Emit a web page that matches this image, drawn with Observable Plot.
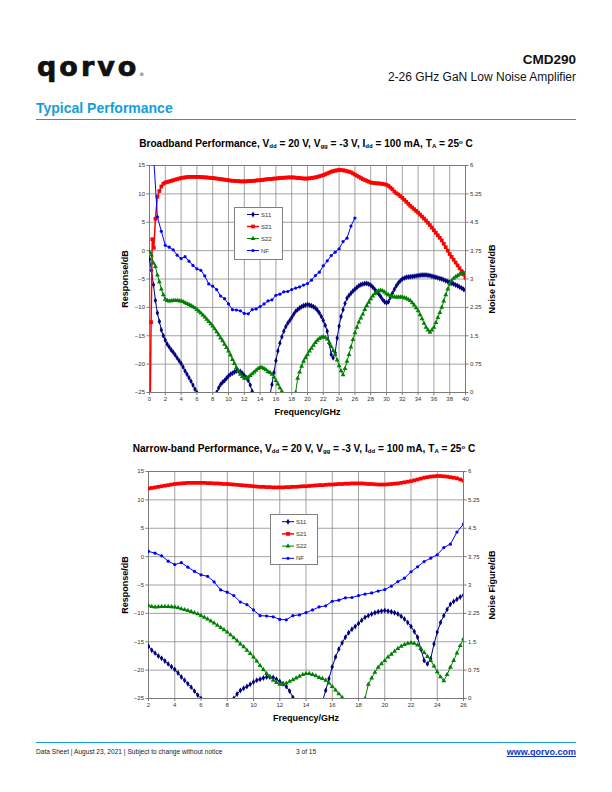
<!DOCTYPE html>
<html><head><meta charset="utf-8">
<script src="https://cdn.jsdelivr.net/npm/d3@7"></script>
<script src="https://cdn.jsdelivr.net/npm/@observablehq/plot@0.6"></script>
<style>
body{margin:0;background:#fff;width:612px;height:792px;position:relative;font-family:"Liberation Sans",Arial,sans-serif;overflow:hidden}
.abs{position:absolute;line-height:1;white-space:nowrap}
.t{font-weight:bold;font-size:10.1px;color:#000;left:0;width:612px;text-align:center}
.t sub{font-size:0.6em;vertical-align:-0.1em}
.t sup{font-size:0.6em;vertical-align:0.5em}
.legend{position:absolute;border:1px solid #7f7f7f;background:#fff;box-sizing:border-box}
.legend svg{display:block}
</style></head><body>
<div class="abs" style="left:37px;top:53px;font-family:'DejaVu Sans';font-weight:bold;font-size:27px;letter-spacing:3px;color:#111;-webkit-text-stroke:0.7px #111">qorvo<span style="font-size:5px;letter-spacing:0;color:#666;-webkit-text-stroke:0">®</span></div>
<div class="abs" style="right:36px;top:52.6px;font-weight:bold;font-size:13.5px;color:#111">CMD290</div>
<div class="abs" style="right:36px;top:71.3px;font-size:12px;color:#111">2-26 GHz GaN Low Noise Amplifier</div>
<div class="abs" style="left:36px;top:101px;font-weight:bold;font-size:14px;color:#139ed9">Typical Performance</div>
<div class="abs" style="left:36px;top:119px;width:540px;height:1.3px;background:#139ed9"></div>

<div class="abs t" style="top:139px">Broadband Performance, V<sub>dd</sub> = 20 V, V<sub>gg</sub> = -3 V, I<sub>dd</sub> = 100 mA, T<sub>A</sub> = 25<sup>o</sup> C</div>
<div id="c1" class="abs" style="left:0;top:155px"></div>
<div id="l1" class="legend" style="left:234px;top:207px;width:49px;height:53px"></div>

<div class="abs t" style="top:444px;left:-2px">Narrow-band Performance, V<sub>dd</sub> = 20 V, V<sub>gg</sub> = -3 V, I<sub>dd</sub> = 100 mA, T<sub>A</sub> = 25<sup>o</sup> C</div>
<div id="c2" class="abs" style="left:0;top:461px"></div>
<div id="l2" class="legend" style="left:270px;top:514px;width:48px;height:51px"></div>

<div class="abs" style="left:36px;top:742px;width:540px;height:1.3px;background:#139ed9"></div>
<div class="abs" style="left:36px;top:749.4px;font-size:6.6px;color:#222">Data Sheet | August 23, 2021 | Subject to change without notice</div>
<div class="abs" style="left:296px;top:749.4px;font-size:6.6px;color:#222">3 of 15</div>
<div class="abs" style="right:36px;top:748.4px;font-size:9px;font-weight:bold;color:#0b35c9;text-decoration:underline">www.qorvo.com</div>

<script>
// ---- Data ----
const yTicks = [-25, -20, -15, -10, -5, 0, 5, 10, 15];
const nfTicks = [0, 0.75, 1.5, 2.25, 3, 3.75, 4.5, 5.25, 6];
const xTicksBroad = [0, 2, 4, 6, 8, 10, 12, 14, 16, 18, 20, 22, 24, 26, 28, 30, 32, 34, 36, 38, 40];
const xTicksNarrow = [2, 4, 6, 8, 10, 12, 14, 16, 18, 20, 22, 24, 26];

// common frequency grid for S11 / S22 (GHz)
const fGrid = d3.range(0, 40.001, 0.25);

const s11 = [
  -1.5, -3.5, -6.0, -8.8,      // 0
  -11.0, -12.5, -14.0, -15.0,  // 1
  -15.8, -16.5, -17.0, -17.5,  // 2
  -17.9, -18.4, -18.9, -19.4,  // 3
  -19.9, -20.5, -21.2, -21.8,  // 4
  -22.4, -23.0, -23.7, -24.4,  // 5
  -25.0, -26.2, -27.5, -28.8,  // 6
  -30.0, -30.5, -30.5, -30.0,  // 7
  -29.0, -27.0, -25.0, -24.2,  // 8
  -23.6, -23.2, -22.9, -22.5,  // 9
  -22.1, -21.8, -21.6, -21.4,  // 10
  -21.2, -21.2, -21.3, -21.6,  // 11
  -22.0, -22.4, -22.9, -23.7,  // 12
  -24.8, -26.2, -27.8, -29.2,  // 13
  -30.5, -31.0, -30.5, -29.5,  // 14
  -27.5, -25.5, -23.6, -21.5,  // 15
  -19.4, -17.7, -16.3, -15.2,  // 16
  -14.2, -13.4, -12.8, -12.3,  // 17
  -11.8, -11.2, -10.7, -10.4,  // 18
  -10.1, -9.9, -9.7, -9.6,     // 19
  -9.5, -9.6, -9.7, -9.9,      // 20
  -10.1, -10.5, -11.0, -11.6,  // 21
  -12.3, -13.2, -14.2, -16.3,  // 22
  -18.3, -18.9, -18.0, -15.4,  // 23
  -13.3, -11.6, -10.4, -9.3,   // 24
  -8.4, -7.9, -7.5, -7.1,      // 25
  -6.8, -6.5, -6.2, -6.0,      // 26
  -5.9, -5.8, -5.8, -5.9,      // 27
  -6.1, -6.4, -6.8, -7.2,      // 28
  -7.6, -8.1, -8.6, -9.0,      // 29
  -9.2, -9.0, -8.2, -7.5,      // 30
  -6.8, -6.2, -5.7, -5.3,      // 31
  -5.0, -4.85, -4.7, -4.65,    // 32
  -4.6, -4.55, -4.5, -4.45,    // 33
  -4.4, -4.35, -4.3, -4.3,     // 34
  -4.3, -4.35, -4.4, -4.5,     // 35
  -4.6, -4.7, -4.8, -4.9,      // 36
  -5.0, -5.15, -5.3, -5.45,    // 37
  -5.6, -5.75, -5.9, -6.05,    // 38
  -6.2, -6.4, -6.6, -6.8,      // 39
  -7.0                         // 40
];

const s22 = [
  -0.2, -0.8, -2.2, -2.8,      // 0
  -4.3, -5.5, -6.8, -7.8,      // 1
  -8.6, -8.8, -8.9, -8.85,     // 2
  -8.8, -8.8, -8.8, -8.85,     // 3
  -8.9, -9.0, -9.2, -9.35,     // 4
  -9.5, -9.7, -9.9, -10.1,     // 5
  -10.4, -10.7, -11.0, -11.35, // 6
  -11.7, -12.1, -12.5, -12.9,  // 7
  -13.3, -13.8, -14.3, -14.85, // 8
  -15.4, -15.9, -16.5, -17.1,  // 9
  -17.7, -18.4, -19.2, -19.9,  // 10
  -20.6, -21.2, -21.8, -22.2,  // 11
  -22.5, -22.5, -22.3, -22.0,  // 12
  -21.7, -21.4, -21.1, -20.8,  // 13
  -20.6, -20.6, -20.8, -21.0,  // 14
  -21.3, -21.5, -21.8, -22.3,  // 15
  -22.9, -23.5, -24.2, -24.8,  // 16
  -25.3, -26.5, -28.0, -29.0,  // 17
  -29.5, -28.0, -25.0, -22.5,  // 18
  -21.4, -20.4, -19.5, -18.9,  // 19
  -18.3, -17.7, -17.2, -16.7,  // 20
  -16.2, -15.8, -15.5, -15.3,  // 21
  -15.2, -15.3, -15.6, -16.2,  // 22
  -16.9, -17.6, -18.3, -19.3,  // 23
  -20.3, -21.2, -21.9, -20.8,  // 24
  -19.5, -18.3, -17.0, -15.7,  // 25
  -14.5, -13.5, -12.6, -11.9,  // 26
  -11.2, -10.4, -9.7, -9.1,    // 27
  -8.5, -8.0, -7.6, -7.3,      // 28
  -7.1, -7.0, -7.1, -7.3,      // 29
  -7.6, -7.8, -8.0, -8.1,      // 30
  -8.2, -8.2, -8.2, -8.2,      // 31
  -8.2, -8.3, -8.4, -8.6,      // 32
  -8.8, -9.2, -9.6, -10.1,     // 33
  -10.6, -11.3, -12.0, -12.8,  // 34
  -13.5, -14.0, -14.4, -14.0,  // 35
  -13.5, -12.7, -11.8, -10.9,  // 36
  -10.0, -8.9, -7.8, -6.8,     // 37
  -5.9, -5.3, -4.9, -4.6,      // 38
  -4.4, -4.2, -4.0, -3.9,      // 39
  -3.8                         // 40
];

// S21 has a few extra low-frequency points
const s21Freq = [0, 0.2, 0.35, 0.55, 0.75].concat(d3.range(1, 40.001, 0.25));
const s21 = [
  -40, -12.6, 2.0, 0.5, 5.6,   // 0 - 0.75
  9.5, 10.5, 11.3, 11.8,       // 1
  12.0, 12.1, 12.2, 12.3,      // 2
  12.4, 12.5, 12.6, 12.7,      // 3
  12.8, 12.85, 12.9, 12.95,    // 4
  13.0, 13.0, 13.0, 13.0,      // 5
  13.0, 13.0, 12.95, 12.95,    // 6
  12.9, 12.9, 12.85, 12.8,     // 7
  12.8, 12.75, 12.7, 12.65,    // 8
  12.6, 12.55, 12.5, 12.45,    // 9
  12.4, 12.35, 12.3, 12.3,     // 10
  12.25, 12.25, 12.2, 12.2,    // 11
  12.2, 12.2, 12.25, 12.25,    // 12
  12.3, 12.3, 12.35, 12.4,     // 13
  12.4, 12.45, 12.5, 12.55,    // 14
  12.6, 12.6, 12.65, 12.7,     // 15
  12.7, 12.75, 12.8, 12.8,     // 16
  12.85, 12.85, 12.9, 12.9,    // 17
  12.9, 12.9, 12.85, 12.8,     // 18
  12.8, 12.75, 12.7, 12.7,     // 19
  12.7, 12.75, 12.8, 12.85,    // 20
  12.9, 13.0, 13.1, 13.2,      // 21
  13.3, 13.45, 13.6, 13.75,    // 22
  13.9, 14.0, 14.1, 14.15,     // 23
  14.2, 14.2, 14.15, 14.1,     // 24
  14.0, 13.9, 13.8, 13.6,      // 25
  13.4, 13.2, 13.0, 12.8,      // 26
  12.6, 12.45, 12.3, 12.15,    // 27
  12.0, 11.95, 11.9, 11.85,    // 28
  11.85, 11.8, 11.75, 11.7,    // 29
  11.6, 11.4, 11.1, 10.8,      // 30
  10.4, 10.1, 9.9, 9.6,        // 31
  9.3, 8.95, 8.6, 8.25,        // 32
  7.9, 7.6, 7.3, 7.0,          // 33
  6.7, 6.35, 6.0, 5.65,        // 34
  5.3, 4.9, 4.5, 4.05,         // 35
  3.6, 3.15, 2.7, 2.25,        // 36
  1.8, 1.2, 0.6, 0.0,          // 37
  -0.6, -1.1, -1.6, -2.1,      // 38
  -2.6, -3.1, -3.6, -4.2,      // 39
  -4.8                         // 40
];

// Noise figure (dB, right axis), 0.5 GHz steps
const nfFreq = d3.range(0.5, 26.001, 0.5);
const nf = [
  6.3, 4.64, 4.26, 3.89, 3.84, 3.77, 3.63, 3.54, 3.59, 3.47,
  3.36, 3.27, 3.23, 3.08, 2.87, 2.81, 2.72, 2.55, 2.48, 2.34,
  2.19, 2.18, 2.16, 2.09, 2.08, 2.19, 2.21, 2.27, 2.34, 2.42,
  2.45, 2.57, 2.60, 2.66, 2.67, 2.72, 2.76, 2.79, 2.84, 2.88,
  2.97, 3.09, 3.18, 3.35, 3.48, 3.62, 3.71, 3.80, 3.99, 4.08,
  4.40, 4.61
];

const seriesNames = ["S11", "S21", "S22", "NF"];
const seriesColors = ["#000080", "#ff0000", "#008000", "#0000ff"];
const seriesSymbols = ["diamond", "square", "triangle", "circle"];

// ---- helpers ----
const yDom = [yTicks[0], yTicks[yTicks.length - 1]];
const nfToResp = v => yDom[0] + (v - nfTicks[0]) * (yDom[1] - yDom[0]) / (nfTicks[nfTicks.length - 1] - nfTicks[0]);
const respToNf = d => nfTicks[yTicks.indexOf(d)];

const seriesData = [
  fGrid.map((f, i) => ({f, v: s11[i]})),
  s21Freq.map((f, i) => ({f, v: s21[i]})),
  fGrid.map((f, i) => ({f, v: s22[i]})),
  nfFreq.map((f, i) => ({f, v: nfToResp(nf[i])}))
];
const lineW = [1, 1.5, 1, 1];
const dotR = [1.8, 2.1, 1.8, 1.6];

function chart({xTicks, mLeft, mRight, rightLabelDx, leftLabelDx}) {
  const xMin = xTicks[0], xMax = xTicks[xTicks.length - 1];
  const marks = [
    Plot.gridX({ticks: xTicks, stroke: "#8a8a8a", strokeOpacity: 1, strokeWidth: 0.8}),
    Plot.gridY({ticks: yTicks, stroke: "#8a8a8a", strokeOpacity: 1, strokeWidth: 0.8}),
    Plot.frame({stroke: "#7a7a7a", strokeWidth: 1}),
    Plot.axisX({ticks: xTicks, tickSize: 3, tickPadding: 1.5, stroke: "#7a7a7a", label: null}),
    Plot.axisY({ticks: yTicks, anchor: "left", tickSize: 2.5, tickPadding: 2, stroke: "#7a7a7a", label: null}),
    Plot.axisY({ticks: yTicks, anchor: "right", tickSize: 2.5, tickPadding: 2, stroke: "#7a7a7a", label: null, tickFormat: respToNf})
  ];
  seriesData.forEach((data, k) => {
    const rows = data.filter(d => d.f >= xMin && d.f <= xMax);
    marks.push(Plot.line(rows, {x: "f", y: "v", stroke: seriesColors[k], strokeWidth: lineW[k], clip: true}));
    marks.push(Plot.dot(rows, {x: "f", y: "v", symbol: seriesSymbols[k], r: dotR[k], fill: seriesColors[k], clip: true}));
  });
  marks.push(
    Plot.text(["Frequency/GHz"], {frameAnchor: "bottom", dy: 20, lineAnchor: "middle", textAnchor: "middle", fontWeight: "bold", fontSize: 9, fill: "#000"}),
    Plot.text(["Response/dB"], {frameAnchor: "left", dx: leftLabelDx, rotate: -90, lineAnchor: "middle", textAnchor: "middle", fontWeight: "bold", fontSize: 9, fill: "#000"}),
    Plot.text(["Noise Figure/dB"], {frameAnchor: "right", dx: rightLabelDx, rotate: -90, lineAnchor: "middle", textAnchor: "middle", fontWeight: "bold", fontSize: 9, fill: "#000"})
  );
  return Plot.plot({
    width: 612, height: 270,
    marginLeft: mLeft, marginRight: mRight, marginTop: 10, marginBottom: 33,
    x: {domain: [xMin, xMax]},
    y: {domain: yDom},
    style: {fontFamily: "'Liberation Sans', Arial, sans-serif", fontSize: "6px", color: "#333", background: "transparent", overflow: "visible"},
    marks
  });
}

document.getElementById("c1").appendChild(chart({xTicks: xTicksBroad, mLeft: 149, mRight: 147, leftLabelDx: -24.5, rightLabelDx: 27}));
document.getElementById("c2").appendChild(chart({xTicks: xTicksNarrow, mLeft: 148, mRight: 149, leftLabelDx: -23, rightLabelDx: 29}));

// ---- legends ----
function legend(id, w, h, y0, step, x0, x1, tx) {
  const svg = d3.select("#" + id).append("svg").attr("width", w - 2).attr("height", h - 2);
  seriesNames.forEach((name, k) => {
    const y = y0 + k * step;
    svg.append("line").attr("x1", x0).attr("x2", x1).attr("y1", y).attr("y2", y)
      .attr("stroke", seriesColors[k]).attr("stroke-width", lineW[k]);
    const sym = {diamond: d3.symbolDiamond, square: d3.symbolSquare, triangle: d3.symbolTriangle, circle: d3.symbolCircle}[seriesSymbols[k]];
    svg.append("path").attr("d", d3.symbol(sym, Math.PI * dotR[k] * dotR[k])())
      .attr("transform", `translate(${(x0 + x1) / 2},${y})`).attr("fill", seriesColors[k]);
    svg.append("text").attr("x", tx).attr("y", y).attr("dy", "0.35em")
      .attr("font-size", 6).attr("font-family", "'Liberation Sans', Arial, sans-serif").attr("fill", "#333").text(name);
  });
}
legend("l1", 49, 53, 6.5, 12, 12, 24, 26);
legend("l2", 48, 51, 6.7, 12.2, 11, 23, 25);
</script>
</body></html>
